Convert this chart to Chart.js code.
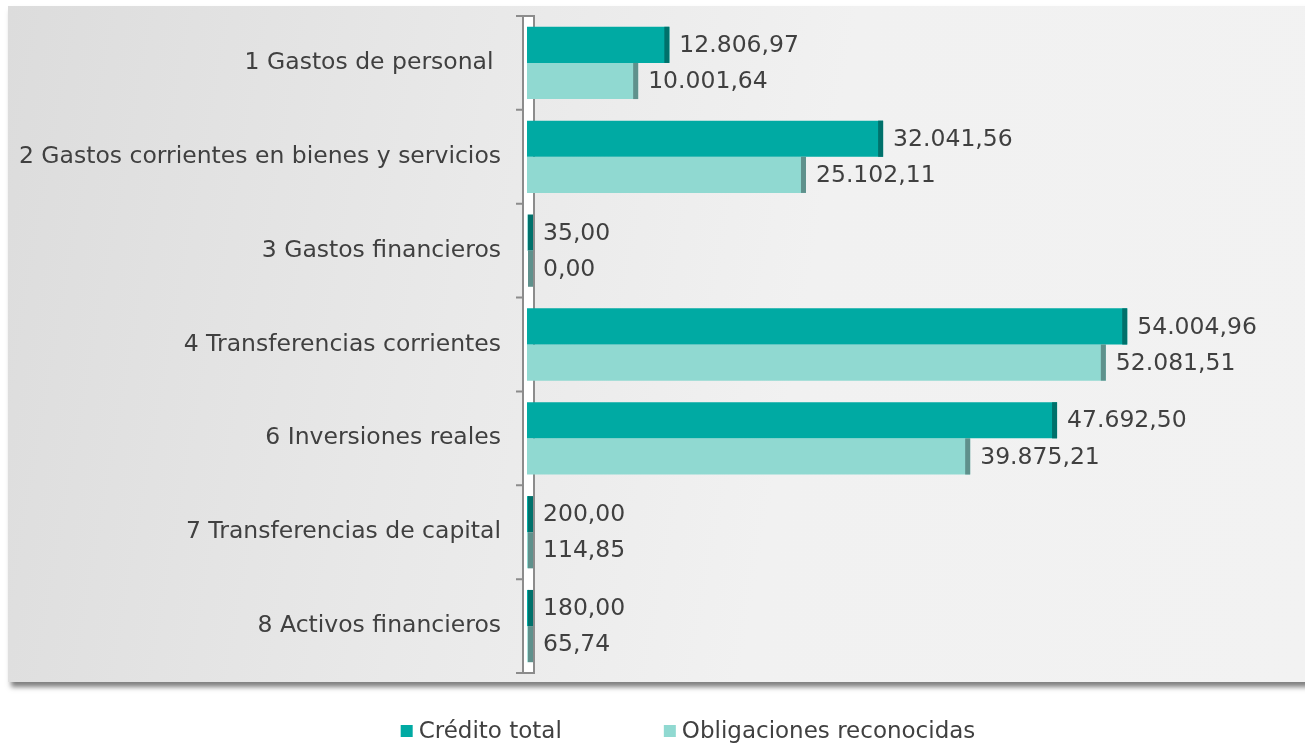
<!DOCTYPE html>
<html>
<head>
<meta charset="utf-8">
<script src="https://cdn.jsdelivr.net/npm/chart.js@4/dist/chart.umd.min.js"></script>
<style>
  html, body { margin: 0; padding: 0; background: #fff; }
  #wrap { position: relative; width: 1305px; height: 743px; overflow: hidden; }
  #panel {
    position: absolute; left: 8px; top: 6px; width: 1300px; height: 676px;
    background: linear-gradient(100deg, #dcdcdc 0%, #e9e9e9 35%, #f1f1f1 60%, #f2f2f2 100%);
    box-shadow: 3px 5px 5px rgba(0,0,0,0.5);
  }
  #myChart { position: absolute; left: 0; top: 0; }
</style>
</head>
<body>
<div id="wrap">
  <div id="panel"></div>
  <canvas id="myChart" width="1305" height="743"></canvas>
</div>
<script>
const categories = [
  '1 Gastos de personal ',
  '2 Gastos corrientes en bienes y servicios',
  '3 Gastos financieros',
  '4 Transferencias corrientes',
  '6 Inversiones reales',
  '7 Transferencias de capital',
  '8 Activos financieros'
];
const creditoTotal = [12806.97, 32041.56, 35.00, 54004.96, 47692.50, 200.00, 180.00];
const obligaciones = [10001.64, 25102.11, 0.00, 52081.51, 39875.21, 114.85, 65.74];
const seriesNames = ['Crédito total', 'Obligaciones reconocidas'];

const textColor = '#404040';
const fontFamily = '"DejaVu Sans", Verdana, sans-serif';
const fontSize = 23.5;
const capColors = ['#00716b', '#5f918c'];

function formatEs(v) {
  const parts = v.toFixed(2).split('.');
  parts[0] = parts[0].replace(/\B(?=(\d{3})+(?!\d))/g, '.');
  return parts[0] + ',' + parts[1];
}

// 3D style axis wall on the left
const wallPlugin = {
  id: 'wall',
  beforeDatasetsDraw(chart) {
    const ctx = chart.ctx;
    const area = chart.chartArea;
    const yScale = chart.scales.y;
    const x0 = area.left - 4, x1 = area.left + 7;
    ctx.save();
    ctx.fillStyle = '#ffffff';
    ctx.fillRect(x0, area.top, x1 - x0, area.bottom - area.top);
    ctx.strokeStyle = '#8c8c8c';
    ctx.lineWidth = 2;
    ctx.strokeRect(x0, area.top, x1 - x0, area.bottom - area.top);
    ctx.beginPath();
    const n = yScale.ticks.length;
    const step = (area.bottom - area.top) / n;
    for (let i = 0; i <= n; i++) {
      const y = area.top + i * step;
      ctx.moveTo(x0 - 7, y);
      ctx.lineTo(x0, y);
    }
    ctx.stroke();
    ctx.restore();
  }
};

// darker end face on bars plus value labels
const barEndPlugin = {
  id: 'barEnd',
  afterDatasetsDraw(chart) {
    const ctx = chart.ctx;
    ctx.save();
    ctx.font = fontSize + 'px ' + fontFamily;
    ctx.textBaseline = 'middle';
    ctx.textAlign = 'left';
    chart.data.datasets.forEach((ds, di) => {
      const meta = chart.getDatasetMeta(di);
      meta.data.forEach((bar, i) => {
        const p = bar.getProps(['x', 'y', 'base', 'height'], true);
        const end = Math.max(p.x, p.base + 6);
        ctx.fillStyle = capColors[di];
        ctx.fillRect(end - 5, p.y - p.height / 2, 5, p.height);
        ctx.fillStyle = textColor;
        ctx.fillText(formatEs(ds.data[i]), end + 10, p.y + 1);
      });
    });
    ctx.restore();
  }
};

// legend drawn under the panel
const legendPlugin = {
  id: 'bottomLegend',
  afterDraw(chart) {
    const ctx = chart.ctx;
    ctx.save();
    ctx.font = '23px ' + fontFamily;
    ctx.textBaseline = 'middle';
    ctx.textAlign = 'left';
    const box = 12, gapBox = 6, gapItem = 102, cy = 731, cx = 688;
    const items = chart.data.datasets.map(ds => ({
      text: ds.label, color: ds.backgroundColor,
      w: box + gapBox + ctx.measureText(ds.label).width
    }));
    const total = items.reduce((s, it) => s + it.w, 0) + gapItem * (items.length - 1);
    let x = cx - total / 2;
    items.forEach(it => {
      ctx.fillStyle = it.color;
      ctx.fillRect(x, cy - box / 2, box, box);
      ctx.fillStyle = textColor;
      ctx.fillText(it.text, x + box + gapBox, cy + 1);
      x += it.w + gapItem;
    });
    ctx.restore();
  }
};

const ctx = document.getElementById('myChart');

new Chart(ctx, {
  type: 'bar',
  data: {
    labels: categories,
    datasets: [{
      label: seriesNames[0],
      data: creditoTotal,
      backgroundColor: '#00aaa3',
      borderWidth: 0,
      categoryPercentage: 0.77,
      barPercentage: 1
    }, {
      label: seriesNames[1],
      data: obligaciones,
      backgroundColor: '#90d9d1',
      borderWidth: 0,
      categoryPercentage: 0.77,
      barPercentage: 1
    }]
  },
  plugins: [wallPlugin, barEndPlugin, legendPlugin],
  options: {
    indexAxis: 'y',
    responsive: false,
    animation: false,
    events: [],
    layout: {
      padding: { top: 16, bottom: 70, left: 0, right: -4 }
    },
    plugins: {
      legend: { display: false },
      tooltip: { enabled: false }
    },
    scales: {
      x: {
        display: false,
        min: 0,
        max: 70000
      },
      y: {
        afterFit: s => { s.width = 527; s.paddingTop = 0; s.paddingBottom = 0; },
        grid: { display: false, drawTicks: false },
        border: { display: false },
        ticks: {
          color: textColor,
          padding: 26,
          font: { family: fontFamily, size: fontSize }
        }
      }
    }
  }
});
</script>
</body>
</html>
